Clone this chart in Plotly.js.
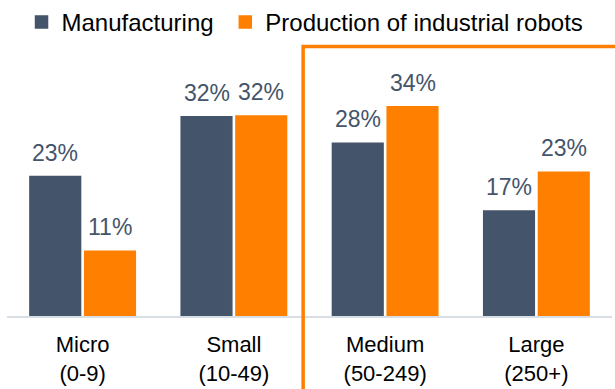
<!DOCTYPE html>
<html>
<head>
<meta charset="utf-8">
<script src="https://cdn.plot.ly/plotly-3.0.1.min.js"></script>
<style>
  html, body { margin: 0; padding: 0; background: #ffffff; }
  #chart { width: 615px; height: 389px; }
</style>
</head>
<body>
<div id="chart"></div>
<script>
// ---- data ----
const categories = ['Micro', 'Small', 'Medium', 'Large'];
const tickLabels = ['Micro<br>(0-9)', 'Small<br>(10-49)', 'Medium<br>(50-249)', 'Large<br>(250+)'];
const manufacturing = [22.6, 32.3, 28.0, 17.0];
const robots = [10.5, 32.4, 33.9, 23.3];
const manufacturingLabels = ['23%', '32%', '28%', '17%'];
const robotsLabels = ['11%', '32%', '34%', '23%'];
const seriesNames = ['Manufacturing', 'Production of industrial robots'];

// ---- style ----
const DARK = '#44546A';
const ORANGE = '#FF8000';
const FONT = 'Arial, "Liberation Sans", sans-serif';
const BARGAP = 0.276;
const slotOffset = (1 - BARGAP) / 4;

const traces = [
  {
    type: 'bar', name: seriesNames[0] + '\u00a0', x: categories, y: manufacturing,
    marker: { color: DARK, line: { color: DARK, width: 1.5 } }, hoverinfo: 'skip'
  },
  {
    type: 'bar', name: seriesNames[1], x: categories, y: robots,
    marker: { color: ORANGE, line: { color: ORANGE, width: 1.5 } }, hoverinfo: 'skip'
  }
];

const annotations = [];
categories.forEach((c, i) => {
  annotations.push({
    x: i - slotOffset, y: manufacturing[i], xref: 'x', yref: 'y',
    text: manufacturingLabels[i], showarrow: false, yanchor: 'bottom', yshift: 9,
    font: { family: FONT, size: 23, color: DARK }
  });
  annotations.push({
    x: i + slotOffset, y: robots[i], xref: 'x', yref: 'y',
    text: robotsLabels[i], showarrow: false, yanchor: 'bottom', yshift: 9,
    font: { family: FONT, size: 23, color: DARK }
  });
});

const layout = {
  width: 615, height: 389,
  margin: { l: 7, r: 3, t: 50, b: 73, pad: 0 },
  paper_bgcolor: '#ffffff', plot_bgcolor: '#ffffff',
  font: { family: FONT, color: '#000000' },
  barmode: 'group', bargap: BARGAP, bargroupgap: 0.075,
  showlegend: true,
  legend: {
    orientation: 'h', xref: 'container', yref: 'container',
    x: 0.035, xanchor: 'left', y: 1, yanchor: 'top',
    font: { family: FONT, size: 24, color: '#000000' },
    bgcolor: 'rgba(0,0,0,0)', traceorder: 'normal'
  },
  xaxis: {
    type: 'category', tickvals: categories, ticktext: tickLabels,
    showline: true, linecolor: '#D9DEE4', linewidth: 2,
    showgrid: false, zeroline: false, ticks: '',
    ticklabelstandoff: 8,
    tickfont: { family: FONT, size: 22, color: '#000000' },
    fixedrange: true
  },
  yaxis: {
    range: [0, 43.1], visible: false, showgrid: false, zeroline: false, fixedrange: true
  },
  shapes: [{
    type: 'rect', xref: 'paper', yref: 'paper',
    x0: 0.4895, x1: 1.05, y0: -0.4, y1: 1.013,
    line: { color: ORANGE, width: 3.5 }, fillcolor: 'rgba(0,0,0,0)', layer: 'above'
  }],
  annotations: annotations
};

Plotly.newPlot('chart', traces, layout, { displayModeBar: false, staticPlot: true });
</script>
</body>
</html>
